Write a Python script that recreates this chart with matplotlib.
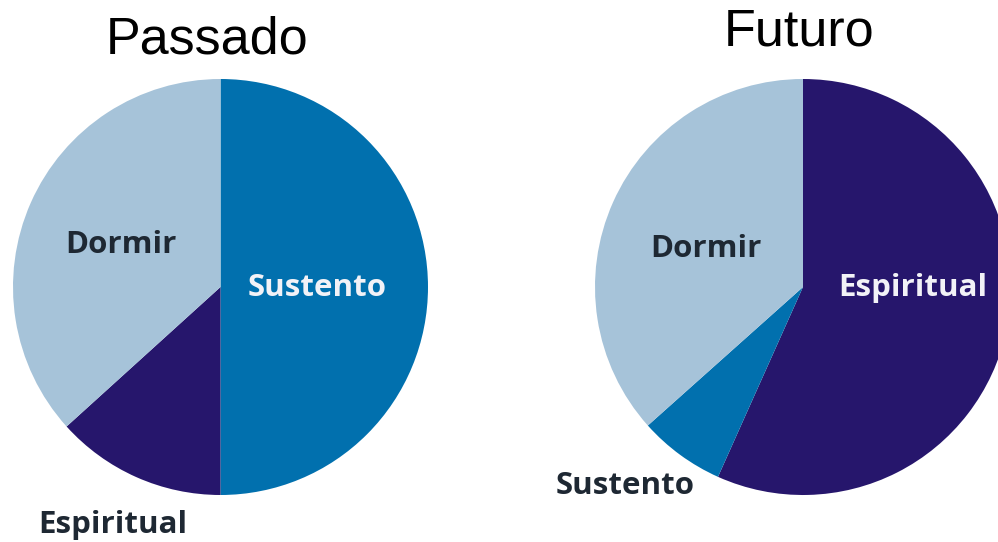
import matplotlib
matplotlib.use("Agg")
import matplotlib.pyplot as plt

# Data (percent of the day)
past_labels = ["Sustento", "Espiritual", "Dormir"]
past_values = [50.0, 13.3, 36.7]
future_labels = ["Espiritual", "Sustento", "Dormir"]
future_values = [56.7, 6.7, 36.6]
titles = ["Passado", "Futuro"]

colors = {"Dormir": "#A6C3D9", "Sustento": "#0170AE", "Espiritual": "#26166C"}

W, H = 998, 542
fig = plt.figure(figsize=(W / 100, H / 100), dpi=100)
fig.patch.set_facecolor("white")


def fx(px):
    return px / W


def fy(py):
    return 1 - py / H


def add_pie(x0, x1, y0, y1, labels, values):
    ax = fig.add_axes([fx(x0), fy(y1), fx(x1) - fx(x0), fy(y0) - fy(y1)])
    ax.pie(values, colors=[colors[l] for l in labels], startangle=90,
           counterclock=False, radius=1.0,
           wedgeprops=dict(linewidth=0))
    ax.set_aspect("auto")
    ax.set_xlim(-1, 1)
    ax.set_ylim(-1, 1)
    ax.axis("off")
    return ax


add_pie(13, 428, 79, 495, past_labels, past_values)
add_pie(595, 1011, 79, 495, future_labels, future_values)

title_font = dict(family="Liberation Sans", fontsize=37.5, color="black",
                  ha="center", va="baseline")
fig.text(fx(207), fy(53), titles[0], **title_font)
fig.text(fx(799), fy(45), titles[1], **title_font)

lab = dict(family="Open Sans", fontweight="bold", fontsize=22.5,
           ha="center", va="baseline")
dark = "#1E2833"
light = "#F2F2F7"
fig.text(fx(121), fy(253), "Dormir", color=dark, **lab)
fig.text(fx(317), fy(296), "Sustento", color=light, **lab)
fig.text(fx(113), fy(533), "Espiritual", color=dark, **lab)
fig.text(fx(706), fy(257), "Dormir", color=dark, **lab)
fig.text(fx(913), fy(296), "Espiritual", color=light, **lab)
fig.text(fx(625), fy(494), "Sustento", color=dark, **lab)

fig.savefig("out.png", dpi=100, facecolor="white")
